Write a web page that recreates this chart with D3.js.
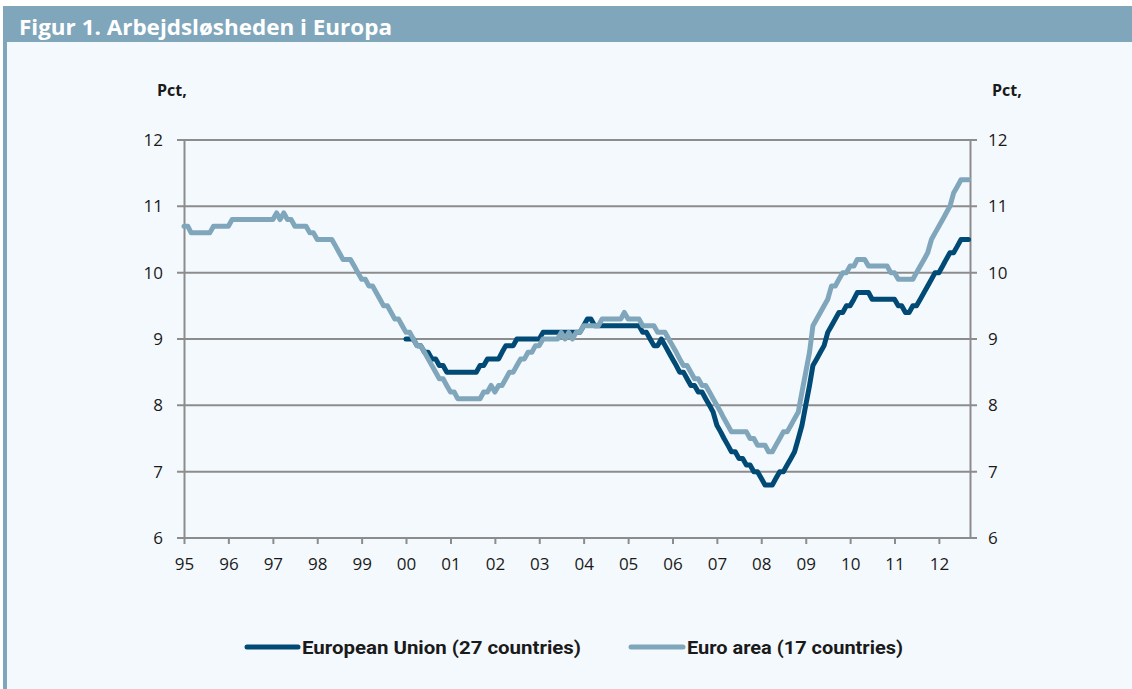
<!DOCTYPE html>
<html>
<head>
<meta charset="utf-8">
<script src="https://cdn.jsdelivr.net/npm/d3@7"></script>
<style>
  body { margin: 0; background: #ffffff; }
  .svg-container { width: 1132px; height: 689px; }
</style>
</head>
<body>
<div class="svg-container"></div>
<script>
// Monthly unemployment rates, pct
var euroStart = "1995-01";
var euroArea = [
  10.7,10.7,10.6,10.6,10.6,10.6,10.6,10.6,10.7,10.7,10.7,10.7,
  10.7,10.8,10.8,10.8,10.8,10.8,10.8,10.8,10.8,10.8,10.8,10.8,
  10.8,10.9,10.8,10.9,10.8,10.8,10.7,10.7,10.7,10.7,10.6,10.6,
  10.5,10.5,10.5,10.5,10.5,10.4,10.3,10.2,10.2,10.2,10.1,10.0,
  9.9,9.9,9.8,9.8,9.7,9.6,9.5,9.5,9.4,9.3,9.3,9.2,
  9.1,9.1,9.0,8.9,8.9,8.8,8.7,8.6,8.5,8.4,8.4,8.3,
  8.2,8.2,8.1,8.1,8.1,8.1,8.1,8.1,8.1,8.2,8.2,8.3,
  8.2,8.3,8.3,8.4,8.5,8.5,8.6,8.7,8.7,8.8,8.8,8.9,
  8.9,9.0,9.0,9.0,9.0,9.0,9.1,9.0,9.1,9.0,9.1,9.1,
  9.2,9.2,9.2,9.2,9.2,9.3,9.3,9.3,9.3,9.3,9.3,9.4,
  9.3,9.3,9.3,9.3,9.2,9.2,9.2,9.2,9.1,9.1,9.1,9.0,
  8.9,8.8,8.7,8.6,8.6,8.5,8.4,8.4,8.3,8.3,8.2,8.1,
  8.0,7.9,7.8,7.7,7.6,7.6,7.6,7.6,7.6,7.5,7.5,7.4,
  7.4,7.4,7.3,7.3,7.4,7.5,7.6,7.6,7.7,7.8,7.9,8.2,
  8.5,8.8,9.2,9.3,9.4,9.5,9.6,9.8,9.8,9.9,10.0,10.0,
  10.1,10.1,10.2,10.2,10.2,10.1,10.1,10.1,10.1,10.1,10.1,10.0,
  10.0,9.9,9.9,9.9,9.9,9.9,10.0,10.1,10.2,10.3,10.5,10.6,
  10.7,10.8,10.9,11.0,11.2,11.3,11.4,11.4,11.4
];

var euStart = "2000-01";
var euUnion = [
  9.0,9.0,9.0,8.9,8.9,8.8,8.8,8.7,8.7,8.6,8.6,8.5,
  8.5,8.5,8.5,8.5,8.5,8.5,8.5,8.5,8.6,8.6,8.7,8.7,
  8.7,8.7,8.8,8.9,8.9,8.9,9.0,9.0,9.0,9.0,9.0,9.0,
  9.0,9.1,9.1,9.1,9.1,9.1,9.1,9.1,9.1,9.1,9.1,9.1,
  9.2,9.3,9.3,9.2,9.2,9.2,9.2,9.2,9.2,9.2,9.2,9.2,
  9.2,9.2,9.2,9.2,9.1,9.1,9.0,8.9,8.9,9.0,8.9,8.8,
  8.7,8.6,8.5,8.5,8.4,8.3,8.3,8.2,8.2,8.1,8.0,7.9,
  7.7,7.6,7.5,7.4,7.3,7.3,7.2,7.2,7.1,7.1,7.0,7.0,
  6.9,6.8,6.8,6.8,6.9,7.0,7.0,7.1,7.2,7.3,7.5,7.7,
  8.0,8.3,8.6,8.7,8.8,8.9,9.1,9.2,9.3,9.4,9.4,9.5,
  9.5,9.6,9.7,9.7,9.7,9.7,9.6,9.6,9.6,9.6,9.6,9.6,
  9.6,9.5,9.5,9.4,9.4,9.5,9.5,9.6,9.7,9.8,9.9,10.0,
  10.0,10.1,10.2,10.3,10.3,10.4,10.5,10.5,10.5
];

var yearTicks = [1995,1996,1997,1998,1999,2000,2001,2002,2003,2004,2005,2006,2007,2008,2009,2010,2011,2012];
var yTicks = [6,7,8,9,10,11,12];
var seriesNames = ["European Union (27 countries)", "Euro area (17 countries)"];

var darkBlue = "#004a75";
var lightBlue = "#80a6bc";
var gridColor = "#8c8c8c";

function toPoints(start, values){
    var t0 = d3.timeParse("%Y-%m")(start);
    return values.map(function(v, i){
        return { date: d3.timeMonth.offset(t0, i), value: v };
    });
}

function render(){
    var width = 1132;
    var height = 689;
    var left = 184, right = 970, top = 140, bottom = 538;

    var svg = d3.select(".svg-container").append("svg")
    .attr("width", width)
    .attr("height", height);

    // background + frame
    svg.append("rect")
    .attr("x", 3).attr("y", 6)
    .attr("width", width - 3).attr("height", height - 6)
    .style("fill", "#f4f9fd");

    svg.append("rect")
    .attr("x", 3).attr("y", 6)
    .attr("width", width - 3).attr("height", 36)
    .style("fill", lightBlue);

    svg.append("rect")
    .attr("x", 3).attr("y", 6)
    .attr("width", 4).attr("height", height - 6)
    .style("fill", lightBlue);

    svg.append("text")
    .attr("x", 19)
    .attr("y", 35)
    .attr("textLength", 373)
    .attr("lengthAdjust", "spacingAndGlyphs")
    .style("font-family", "'Open Sans', sans-serif")
    .style("font-weight", "700")
    .style("font-size", "22px")
    .style("fill", "#ffffff")
    .text("Figur 1. Arbejdsløsheden i Europa");

    // scales
    var x = d3.scaleTime()
    .domain([new Date(1995, 0, 1), new Date(2012, 8, 13)])
    .range([left, right]);

    var y = d3.scaleLinear()
    .domain([6, 12])
    .range([bottom, top]);

    // grid
    svg.selectAll(".grid")
    .data(yTicks)
    .enter().append("line")
    .attr("x1", left - 7)
    .attr("x2", right + 7)
    .attr("y1", function(d){ return y(d); })
    .attr("y2", function(d){ return y(d); })
    .style("stroke", gridColor)
    .style("stroke-width", 2);

    // axes
    var axisLeft = svg.append("g")
    .attr("transform", "translate(" + left + ",0)")
    .call(d3.axisLeft(y).tickValues(yTicks).tickSize(0).tickPadding(21).tickFormat(d3.format("d")));

    var axisRight = svg.append("g")
    .attr("transform", "translate(" + right + ",0)")
    .call(d3.axisRight(y).tickValues(yTicks).tickSize(0).tickPadding(18).tickFormat(d3.format("d")));

    var axisBottom = svg.append("g")
    .attr("transform", "translate(0," + bottom + ")")
    .call(d3.axisBottom(x)
        .tickValues(yearTicks.map(function(yr){ return new Date(yr, 0, 1); }))
        .tickSize(6)
        .tickPadding(14)
        .tickFormat(d3.timeFormat("%y")));

    [axisLeft, axisRight, axisBottom].forEach(function(g){
        g.select(".domain").style("stroke", gridColor).style("stroke-width", 2);
        g.selectAll(".tick line").style("stroke", gridColor).style("stroke-width", 2);
        g.selectAll("text")
        .style("font-family", "'Open Sans', sans-serif")
        .style("font-size", "17px")
        .style("fill", "#1a1a1a");
    });
    axisBottom.select(".domain").attr("d", "M" + left + ",0H" + right);

    // unit labels
    svg.append("text")
    .attr("x", 157).attr("y", 96)
    .style("font-family", "'Open Sans', sans-serif")
    .style("font-weight", "700")
    .style("font-size", "16px")
    .style("fill", "#1a1a1a")
    .text("Pct,");

    svg.append("text")
    .attr("x", 992).attr("y", 96)
    .style("font-family", "'Open Sans', sans-serif")
    .style("font-weight", "700")
    .style("font-size", "16px")
    .style("fill", "#1a1a1a")
    .text("Pct,");

    var line = d3.line()
    .x(function(d){ return x(d.date); })
    .y(function(d){ return y(d.value); });

    // EU
    svg.append("path")
    .datum(toPoints(euStart, euUnion))
    .attr("d", line)
    .attr("fill", "none")
    .attr("stroke", darkBlue)
    .attr("stroke-width", 5)
    .attr("stroke-linejoin", "round")
    .attr("stroke-linecap", "round");

    // Euro area
    svg.append("path")
    .datum(toPoints(euroStart, euroArea))
    .attr("d", line)
    .attr("fill", "none")
    .attr("stroke", lightBlue)
    .attr("stroke-width", 5)
    .attr("stroke-linejoin", "round")
    .attr("stroke-linecap", "round");

    // legend
    var legend = [
        { name: seriesNames[0], color: darkBlue, x1: 247, x2: 298, tx: 302, tw: 279 },
        { name: seriesNames[1], color: lightBlue, x1: 631, x2: 683, tx: 687, tw: 216 }
    ];
    var lg = svg.selectAll(".legend")
    .data(legend)
    .enter().append("g");

    lg.append("line")
    .attr("x1", function(d){ return d.x1; })
    .attr("x2", function(d){ return d.x2; })
    .attr("y1", 647).attr("y2", 647)
    .attr("stroke", function(d){ return d.color; })
    .attr("stroke-width", 5)
    .attr("stroke-linecap", "round");

    lg.append("text")
    .attr("x", function(d){ return d.tx; })
    .attr("y", 654)
    .attr("textLength", function(d){ return d.tw; })
    .attr("lengthAdjust", "spacingAndGlyphs")
    .style("font-family", "Roboto, sans-serif")
    .style("font-weight", "700")
    .style("font-size", "19px")
    .style("fill", "#1a1a1a")
    .text(function(d){ return d.name; });
}

render();
</script>
</body>
</html>
